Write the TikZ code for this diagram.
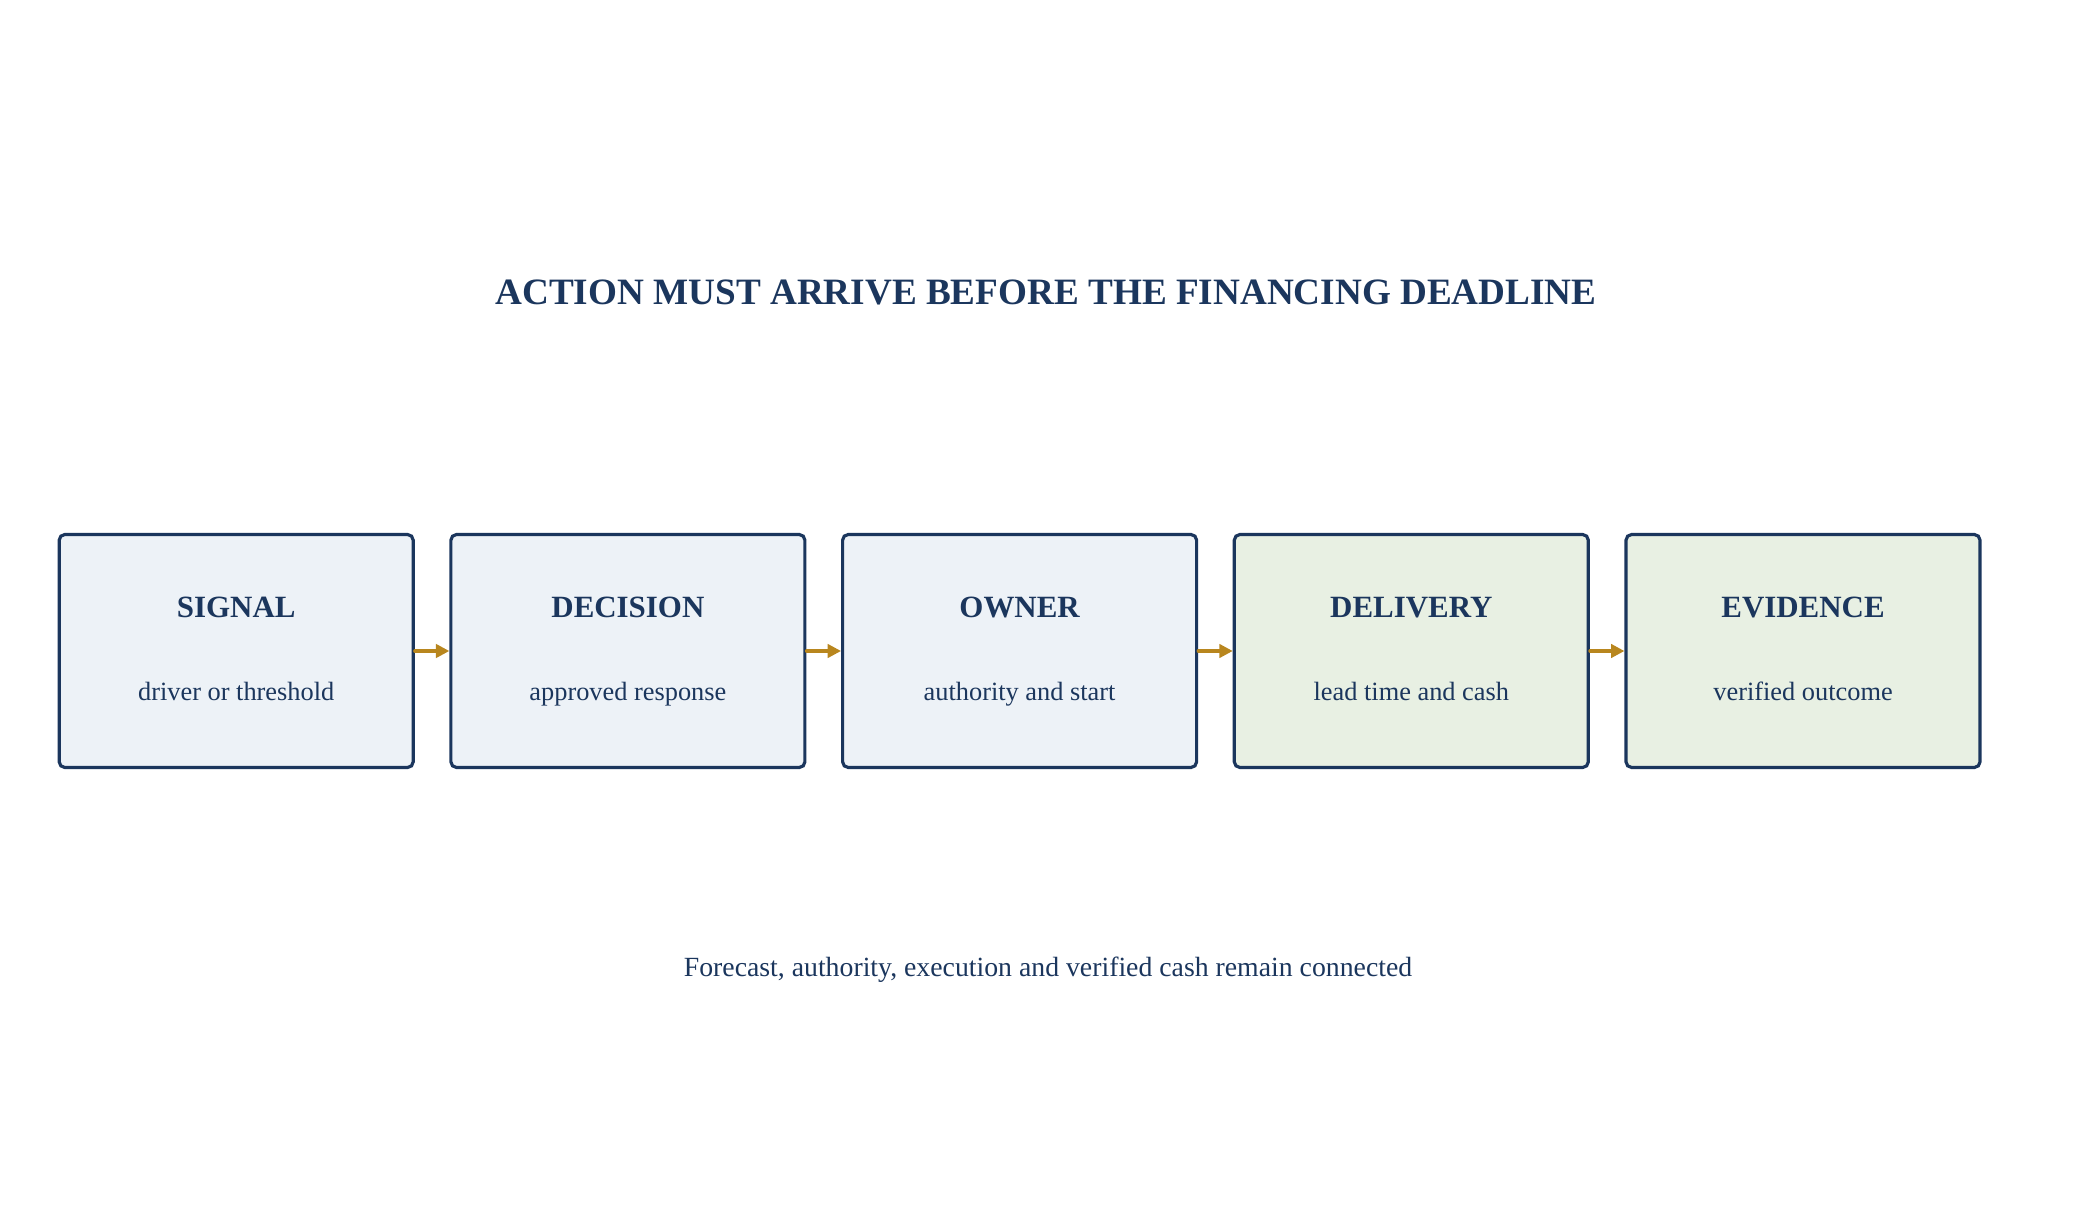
\documentclass[tikz,border=0pt]{standalone}
\usepackage{fontspec}
\setmainfont{Liberation Serif}
\usetikzlibrary{calc, arrows.meta}

\definecolor{navy}{HTML}{1B365D}
\definecolor{bluefill}{HTML}{EDF2F7}
\definecolor{greenfill}{HTML}{E8F0E3}
\definecolor{gold}{HTML}{B8861E}

\tikzset{
	stage/.style={draw=navy, line width=0.9pt, rounded corners=1.6pt, minimum width=3.54cm, minimum height=2.33cm, fill=bluefill},
	late/.style={stage, fill=greenfill},
	head/.style={text=navy, anchor=base, font=\fontsize{8.8}{10}\selectfont\bfseries},
	sub/.style={text=navy, anchor=base, font=\fontsize{7.5}{9}\selectfont},
	link/.style={draw=gold, line width=0.9pt, -{Triangle[length=3.8pt, width=3.8pt]}}
}

\begin{document}
\begin{tikzpicture}[line cap=round]

\useasboundingbox (0,0) rectangle (20.9,12.29);

% Title
\node[text=navy, font=\fontsize{10.58}{12}\selectfont\bfseries] (title) at (10.46,9.37) {ACTION MUST ARRIVE BEFORE THE FINANCING DEADLINE};

% Boxes
\node[stage] (signal)   at (2.362,5.78) {};
\node[stage] (decision) at (6.279,5.78) {};
\node[stage] (owner)    at (10.196,5.78) {};
\node[late]  (delivery) at (14.113,5.78) {};
\node[late]  (evidence) at (18.030,5.78) {};

% Headings
\node[head] (signalh)   at ($(signal)+(0,0.34)$)   {SIGNAL};
\node[head] (decisionh) at ($(decision)+(0,0.34)$) {DECISION};
\node[head] (ownerh)    at ($(owner)+(0,0.34)$)    {OWNER};
\node[head] (deliveryh) at ($(delivery)+(0,0.34)$) {DELIVERY};
\node[head] (evidenceh) at ($(evidence)+(0,0.34)$) {EVIDENCE};

% Sub texts
\node[sub] (signals)   at ($(signal)+(0,-0.49)$)   {driver or threshold};
\node[sub] (decisions) at ($(decision)+(0,-0.49)$) {approved response};
\node[sub] (owners)    at ($(owner)+(0,-0.49)$)    {authority and start};
\node[sub] (deliverys) at ($(delivery)+(0,-0.49)$) {lead time and cash};
\node[sub] (evidences) at ($(evidence)+(0,-0.49)$) {verified outcome};

% Arrows
\draw[link] (signal)   -- (decision);
\draw[link] (decision) -- (owner);
\draw[link] (owner)    -- (delivery);
\draw[link] (delivery) -- (evidence);

% Footer
\node[text=navy, font=\fontsize{7.9}{9}\selectfont] (footer) at (10.48,2.59) {Forecast, authority, execution and verified cash remain connected};

\end{tikzpicture}
\end{document}
